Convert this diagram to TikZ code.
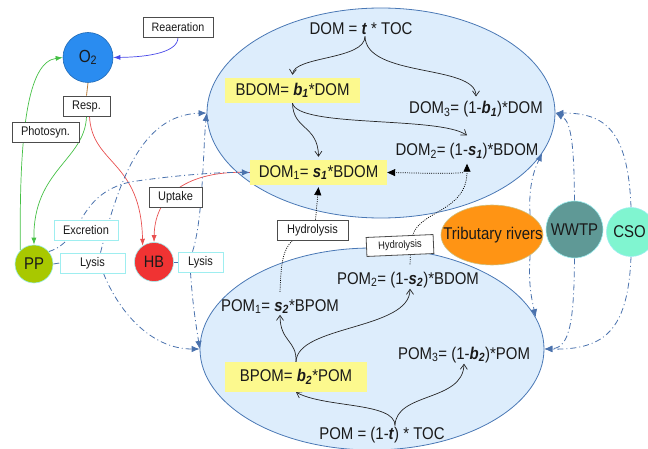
\documentclass[tikz,border=0pt]{standalone}
\usepackage{fontspec}
\setmainfont{Liberation Sans}[FakeStretch=0.88]
\usetikzlibrary{arrows.meta,shapes.geometric}
\pgfdeclarelayer{bg}
\pgfdeclarelayer{lines}
\pgfsetlayers{bg,lines,main}
\definecolor{ellfill}{HTML}{DDEDFC}
\definecolor{elldraw}{HTML}{4A78B5}
\definecolor{dd}{HTML}{4A72AD}
\definecolor{yel}{HTML}{FCF98E}
\definecolor{o2c}{HTML}{2A8CF0}
\definecolor{ppc}{HTML}{A8C800}
\definecolor{hbc}{HTML}{F03333}
\definecolor{tribc}{HTML}{FF9414}
\definecolor{wwtpc}{HTML}{5F9996}
\definecolor{csoc}{HTML}{80F5D0}
\definecolor{cyanb}{HTML}{9EEEF0}
\definecolor{grn}{HTML}{44C044}
\definecolor{rd}{HTML}{E85050}
\definecolor{blu}{HTML}{4848E8}
\definecolor{brn}{HTML}{B87C3C}
\definecolor{txt}{HTML}{1A1A1A}
\newcommand{\bi}[1]{\textbf{\textit{#1}}}
\begin{document}
\begin{tikzpicture}[x=1pt,y=-1pt,
  big/.style={font=\fontsize{17}{20}\selectfont, inner sep=1pt, text=txt},
  lab/.style={draw=black!70, fill=white, line width=0.8pt, font=\fontsize{12.5}{15}\selectfont, inner sep=0pt, minimum height=20pt, text=txt},
  clab/.style={lab, draw=cyanb},
  ybox/.style={fill=yel, font=\fontsize{17}{20}\selectfont, inner sep=0pt, minimum height=25pt, text=txt},
  circ/.style={circle, inner sep=0pt, draw=cyanb, line width=0.6pt, font=\fontsize{17}{20}\selectfont, text=txt},
  bigell/.style={ellipse, fill=ellfill, draw=elldraw, line width=0.8pt, inner sep=0pt},
  ddbase/.style={dd, line width=0.8pt, dash pattern=on 6pt off 3pt on 1pt off 3pt},
  ddline/.style={ddbase, -{Latex[length=8pt,width=6.5pt]}},
  colarrow/.style={line width=0.7pt, -{Latex[length=7pt,width=5pt]}},
  barb/.style={black!85, line width=0.7pt, -{Straight Barb[length=5pt,width=7pt]}},
  dotbase/.style={black, line width=0.7pt, dash pattern=on 1pt off 1.2pt},
  dotl/.style={dotbase, -{Triangle[length=8pt,width=7pt]}}
]
\useasboundingbox (0,0) rectangle (648,449);
\begin{pgfonlayer}{bg}
\node[bigell, minimum width=348pt, minimum height=210pt] (top) at (381,113) {};
\node[bigell, minimum width=344pt, minimum height=202pt] (bot) at (372,349) {};
\end{pgfonlayer}

% nodes
\node[circ, fill=o2c, draw=o2c!75!black, minimum size=50pt, font=\fontsize{17.5}{20}\selectfont] (o2) at (88,57.5) {O\textsubscript{2}};
\node[lab, minimum width=70pt, font=\fontsize{12.2}{14}\selectfont] (reae) at (178,27) {Reaeration};
\node[lab, minimum width=47pt] (resp) at (86.5,106) {Resp.};
\node[lab, minimum width=67pt] (photo) at (45.5,132) {Photosyn.};
\node[clab, minimum width=64pt] (excr) at (86,230) {Excretion};
\node[clab, minimum width=65pt] (lys1) at (92.5,263) {Lysis};
\node[clab, minimum width=45pt] (lys2) at (200.5,262) {Lysis};
\node[lab, minimum width=53pt] (upt) at (175.5,197) {Uptake};
\node[circ, fill=ppc, minimum size=38pt] (pp) at (34,264) {PP};
\node[circ, fill=hbc, minimum size=39pt, font=\fontsize{16.5}{20}\selectfont] (hb) at (154,262) {HB};
\node[lab, minimum width=71pt] (hyd1) at (312.5,230) {Hydrolysis};
\node[lab, minimum width=67pt, minimum height=19pt, rotate=2.5, font=\fontsize{10.7}{13}\selectfont] (hyd2) at (400,245.5) {Hydrolysis};

\node[ellipse, fill=tribc, draw=cyanb!50!tribc, line width=0.6pt, minimum width=102pt, minimum height=60pt, inner sep=0pt] (trib) at (492,235) {};
\node[big] (tribtxt) at (493,235.5) {Tributary rivers};
\node[circ, fill=wwtpc, minimum size=57pt] (wwtp) at (574.5,229.5) {WWTP};
\node[circ, fill=csoc, minimum size=49pt] (cso) at (631,232) {\hspace*{-3pt}CSO};

\node[big, anchor=base] (dom) at (361,35) {DOM = \bi{t} * TOC};
\node[ybox, minimum width=135pt] (bdom) at (292.5,90.5) {BDOM= \bi{b\textsubscript{1}}*DOM};
\node[big, anchor=base] (dom3) at (476,114) {DOM\textsubscript{3}= (1-\bi{b\textsubscript{1}})*DOM};
\node[big, anchor=base] (dom2) at (467,156) {DOM\textsubscript{2}= (1-\bi{s\textsubscript{1}})*BDOM};
\node[ybox, minimum width=137pt] (dom1) at (318.5,172.5) {DOM\textsubscript{1}= \bi{s\textsubscript{1}}*BDOM};
\node[big, anchor=base] (pom2) at (408,284) {POM\textsubscript{2}= (1-\bi{s\textsubscript{2}})*BDOM};
\node[big, anchor=base] (pom1) at (280,311) {POM\textsubscript{1}= \bi{s\textsubscript{2}}*BPOM};
\node[big, anchor=base] (pom3) at (464,359) {POM\textsubscript{3}= (1-\bi{b\textsubscript{2}})*POM};
\node[ybox, minimum width=142pt, minimum height=30pt] (bpom) at (296,377) {BPOM= \bi{b\textsubscript{2}}*POM};
\node[big, anchor=base] (pom) at (382,439) {POM = (1-\bi{t}) * TOC};

\begin{pgfonlayer}{lines}
% oxygen
\draw[blu, colarrow] (reae.south) .. controls (178,52) and (150,57) .. (o2.east);
\draw[grn, colarrow] (pp.north west) .. controls (19,130) and (28,62) .. (o2.west);
\draw[brn, line width=0.8pt] (o2.south) -- (resp.north);
\draw[grn, colarrow] (resp.south) .. controls (85,160) and (33,170) .. (pp.north);
\draw[rd, colarrow] ([xshift=3pt]resp.south) .. controls (92,165) and (141,160) .. (hb.125);
\draw[rd, colarrow] (dom1.west) .. controls (195,170) and (155,190) .. (hb.north);
% excretion and lysis
\draw[ddline] (pp.40) .. controls (85,240) and (75,195) .. (130,182) .. controls (170,176) and (215,172) .. (dom1.west);
\draw[ddbase] (pp.east) -- (lys1.west);
\draw[ddbase] (hb.east) -- (lys2.west);
\draw[ddline] ([xshift=8pt]lys1.north) .. controls (118,185) and (140,115) .. (top.west);
\draw[ddline] ([xshift=11pt]lys1.south) .. controls (118,310) and (150,349) .. (bot.west);
\draw[ddline] ([xshift=-8pt]lys2.north) .. controls (203,220) and (203,150) .. (top.west);
\draw[ddline] ([xshift=-10pt]lys2.south) .. controls (193,310) and (197,330) .. (bot.west);
% external sources
\draw[ddline] (trib.28) .. controls (528,185) and (535,168) .. (top.-14);
\draw[ddline] (trib.-28) .. controls (528,285) and (532,300) .. (bot.11);
\draw[ddline] (wwtp.north) .. controls (574,150) and (572,122) .. (top.east);
\draw[ddline] (cso.north) .. controls (628,130) and (605,113) .. (top.east);
\draw[ddline] (wwtp.south) .. controls (574,320) and (570,348) .. (bot.east);
\draw[ddline] (cso.south) .. controls (628,330) and (605,350) .. (bot.east);
% DOM partition
\draw[barb] ([xshift=4pt]dom.south) .. controls (365,60) and (294,56) .. ([yshift=3pt]bdom.north);
\draw[barb] ([xshift=4pt]dom.south) .. controls (366,78) and (476,64) .. ([yshift=4pt]dom3.north);
\draw[barb] (bdom.south) .. controls (293,130) and (318,125) .. ([yshift=3pt]dom1.north);
\draw[barb] (bdom.south) .. controls (298,128) and (440,116) .. ([yshift=7pt]dom2.north);
% POM partition
\draw[barb] ([xshift=13pt]pom.north) .. controls (395,402) and (325,408) .. (bpom.south);
\draw[barb] ([xshift=13pt]pom.north) .. controls (396,392) and (463,402) .. (pom3.south);
\draw[barb] (bpom.north) .. controls (297,340) and (280,342) .. (pom1.south);
\draw[barb] (bpom.north) .. controls (297,325) and (410,330) .. ([xshift=2pt]pom2.south);
% hydrolysis
\draw[dotl] ([xshift=3pt]hyd1.north) -- ([yshift=-2pt]dom1.south);
\draw[dotbase] ([yshift=6pt]pom1.north) .. controls (281,262) and (283,250) .. ([xshift=-20pt]hyd1.south);
\draw[dotl] ([xshift=13pt]hyd2.north) .. controls (420,210) and (467,212) .. ([yshift=-3pt]dom2.south);
\draw[dotl] ([xshift=-4pt,yshift=-12pt]dom2.south) .. controls (440,174) and (420,173) .. (dom1.east);
\draw[dotbase] ([xshift=2pt,yshift=6pt]pom2.north) -- ([xshift=10pt]hyd2.south);
\end{pgfonlayer}
\end{tikzpicture}
\end{document}
